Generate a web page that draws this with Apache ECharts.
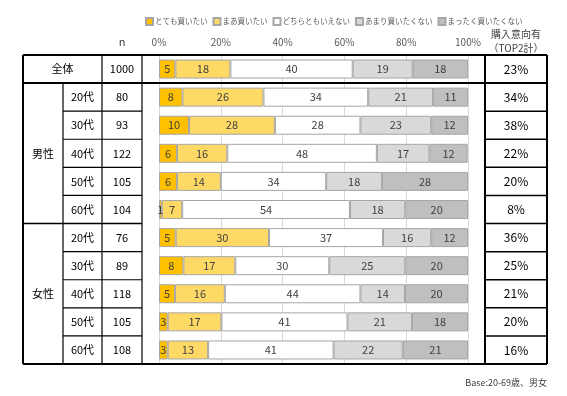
<!DOCTYPE html>
<html>
<head>
<meta charset="utf-8">
<script src="https://cdn.jsdelivr.net/npm/echarts@6/dist/echarts.min.js"></script>
<style>
  html, body { margin: 0; padding: 0; background: #fff; }
  #chart { width: 567px; height: 396px; }
</style>
</head>
<body>
<div id="chart"></div>
<script>
// 行（上から）
const rowKeys = ['all', 'm20', 'm30', 'm40', 'm50', 'm60', 'f20', 'f30', 'f40', 'f50', 'f60'];
const ageLabels = ['全体', '20代', '30代', '40代', '50代', '60代', '20代', '30代', '40代', '50代', '60代'];
const nValues = [1000, 80, 93, 122, 105, 104, 76, 89, 118, 105, 108];
const top2Labels = ['23%', '34%', '38%', '22%', '20%', '8%', '36%', '25%', '21%', '20%', '16%'];
const tickLabels = ['0%', '20%', '40%', '60%', '80%', '100%'];

// 回答の割合（%）
const veryWant = [5.3, 7.6, 9.7, 5.8, 5.8, 0.9, 5.4, 7.9, 5.2, 2.8, 2.8];
const want = [17.8, 26.2, 27.8, 16.3, 14.2, 6.6, 30.2, 16.8, 16.1, 17.4, 13.1];
const neutral = [39.6, 33.9, 27.7, 48.4, 34.1, 54.3, 36.9, 30.4, 43.9, 40.8, 40.6];
const notMuch = [19.4, 21.0, 22.9, 17.0, 18.1, 17.9, 15.6, 24.6, 14.4, 20.9, 22.4];
const notAtAll = [17.9, 11.3, 11.9, 12.4, 27.8, 20.3, 11.9, 20.3, 20.4, 18.1, 21.1];

const seriesNames = ['とても買いたい', 'まあ買いたい', 'どちらともいえない', 'あまり買いたくない', 'まったく買いたくない'];
const seriesData = [veryWant, want, neutral, notMuch, notAtAll];
const seriesColors = ['#FFC000', '#FFD966', '#FFFFFF', '#D9D9D9', '#BFBFBF'];

const FONT = '"Noto Sans CJK JP", "Noto Sans", sans-serif';
const PLOT_L = 159, PLOT_R = 468, PLOT_T = 55, PLOT_B = 364;
const COL_X = [23, 63, 102, 142];   // 表の縦罫線
const RIGHT_X = [485, 547];         // 購入意向有の列

const myChart = echarts.init(document.getElementById('chart'));

let option = {
  animation: false,
  textStyle: { fontFamily: FONT },
  legend: {
    left: 140,
    top: 12,
    width: 420,
    itemWidth: 7,
    itemHeight: 7,
    itemGap: 5,
    icon: 'rect',
    textStyle: { fontSize: 7.5, color: '#595959', padding: [0, 0, 0, -3] },
    data: seriesNames
  },
  grid: {
    left: PLOT_L,
    right: 567 - PLOT_R,
    top: PLOT_T,
    bottom: 396 - PLOT_B
  },
  xAxis: {
    type: 'value',
    position: 'top',
    min: 0,
    max: 100,
    interval: 20,
    axisLine: { show: false },
    axisTick: { show: false },
    axisLabel: {
      margin: 8,
      fontSize: 10,
      color: '#595959',
      formatter: (v) => tickLabels[v / 20]
    },
    splitLine: { show: true, lineStyle: { color: '#D9D9D9', width: 1 } }
  },
  yAxis: {
    type: 'category',
    inverse: true,
    data: rowKeys,
    axisLine: { show: false },
    axisTick: { show: false },
    axisLabel: { show: false }
  },
  series: seriesNames.map((name, i) => ({
    name: name,
    type: 'bar',
    stack: 'total',
    barWidth: 19,
    itemStyle: { color: seriesColors[i], borderColor: '#A6A6A6', borderWidth: 1 },
    label: {
      show: true,
      position: 'inside',
      fontSize: 11,
      color: '#404040',
      formatter: (p) => Math.round(p.value)
    },
    data: seriesData[i]
  }))
};
myChart.setOption(option);

// 表の罫線と文字
const rowH = (PLOT_B - PLOT_T) / rowKeys.length;
const rowY = (i) => myChart.convertToPixel({ yAxisIndex: 0 }, rowKeys[i]);
let g = [];
function hline(x1, x2, y, w) {
  g.push({ type: 'line', shape: { x1: x1, y1: y, x2: x2, y2: y }, style: { stroke: '#000', lineWidth: w } });
}
function vline(x, y1, y2, w) {
  g.push({ type: 'line', shape: { x1: x, y1: y1, x2: x, y2: y2 }, style: { stroke: '#000', lineWidth: w } });
}
function text(x, y, s, size, color, align) {
  g.push({
    type: 'text', x: x, y: y,
    style: { text: s, font: size + 'px ' + FONT, fill: color || '#000', align: align || 'center', verticalAlign: 'middle' }
  });
}

hline(COL_X[0], RIGHT_X[1], PLOT_T, 2);
hline(COL_X[0], RIGHT_X[1], PLOT_T + rowH, 2);
hline(COL_X[0], RIGHT_X[1], PLOT_B, 2);
for (let i = 2; i < rowKeys.length; i++) {
  const y = PLOT_T + rowH * i;
  if (i === 6) {
    hline(COL_X[0], COL_X[3], y, 1.5);
  } else {
    hline(COL_X[1], COL_X[3], y, 1.2);
  }
  hline(RIGHT_X[0], RIGHT_X[1], y, 1.5);
}
vline(COL_X[0], PLOT_T, PLOT_B, 2);
vline(COL_X[1], PLOT_T + rowH, PLOT_B, 1.2);
vline(COL_X[2], PLOT_T, PLOT_B, 1.2);
vline(COL_X[3], PLOT_T, PLOT_B, 1.2);
vline(RIGHT_X[0], PLOT_T, PLOT_B, 2);
vline(RIGHT_X[1], PLOT_T, PLOT_B, 2);

// 見出し
text((COL_X[2] + COL_X[3]) / 2, 42, 'n', 11, '#404040');
text((RIGHT_X[0] + RIGHT_X[1]) / 2, 34, '購入意向有', 10, '#404040');
text((RIGHT_X[0] + RIGHT_X[1]) / 2, 48, '（TOP2計）', 10, '#404040');

rowKeys.forEach((k, i) => {
  const y = rowY(i);
  if (i === 0) {
    text((COL_X[0] + COL_X[2]) / 2, y, ageLabels[i], 11);
  } else {
    text((COL_X[1] + COL_X[2]) / 2, y, ageLabels[i], 11);
  }
  text((COL_X[2] + COL_X[3]) / 2, y, String(nValues[i]), 11);
  text((RIGHT_X[0] + RIGHT_X[1]) / 2, y, top2Labels[i], 12);
});
text((COL_X[0] + COL_X[1]) / 2, (rowY(1) + rowY(5)) / 2, '男性', 11);
text((COL_X[0] + COL_X[1]) / 2, (rowY(6) + rowY(10)) / 2, '女性', 11);

text(RIGHT_X[1], 383, 'Base:20-69歳、男女', 9, '#404040', 'right');

myChart.setOption({ graphic: g });
</script>
</body>
</html>
